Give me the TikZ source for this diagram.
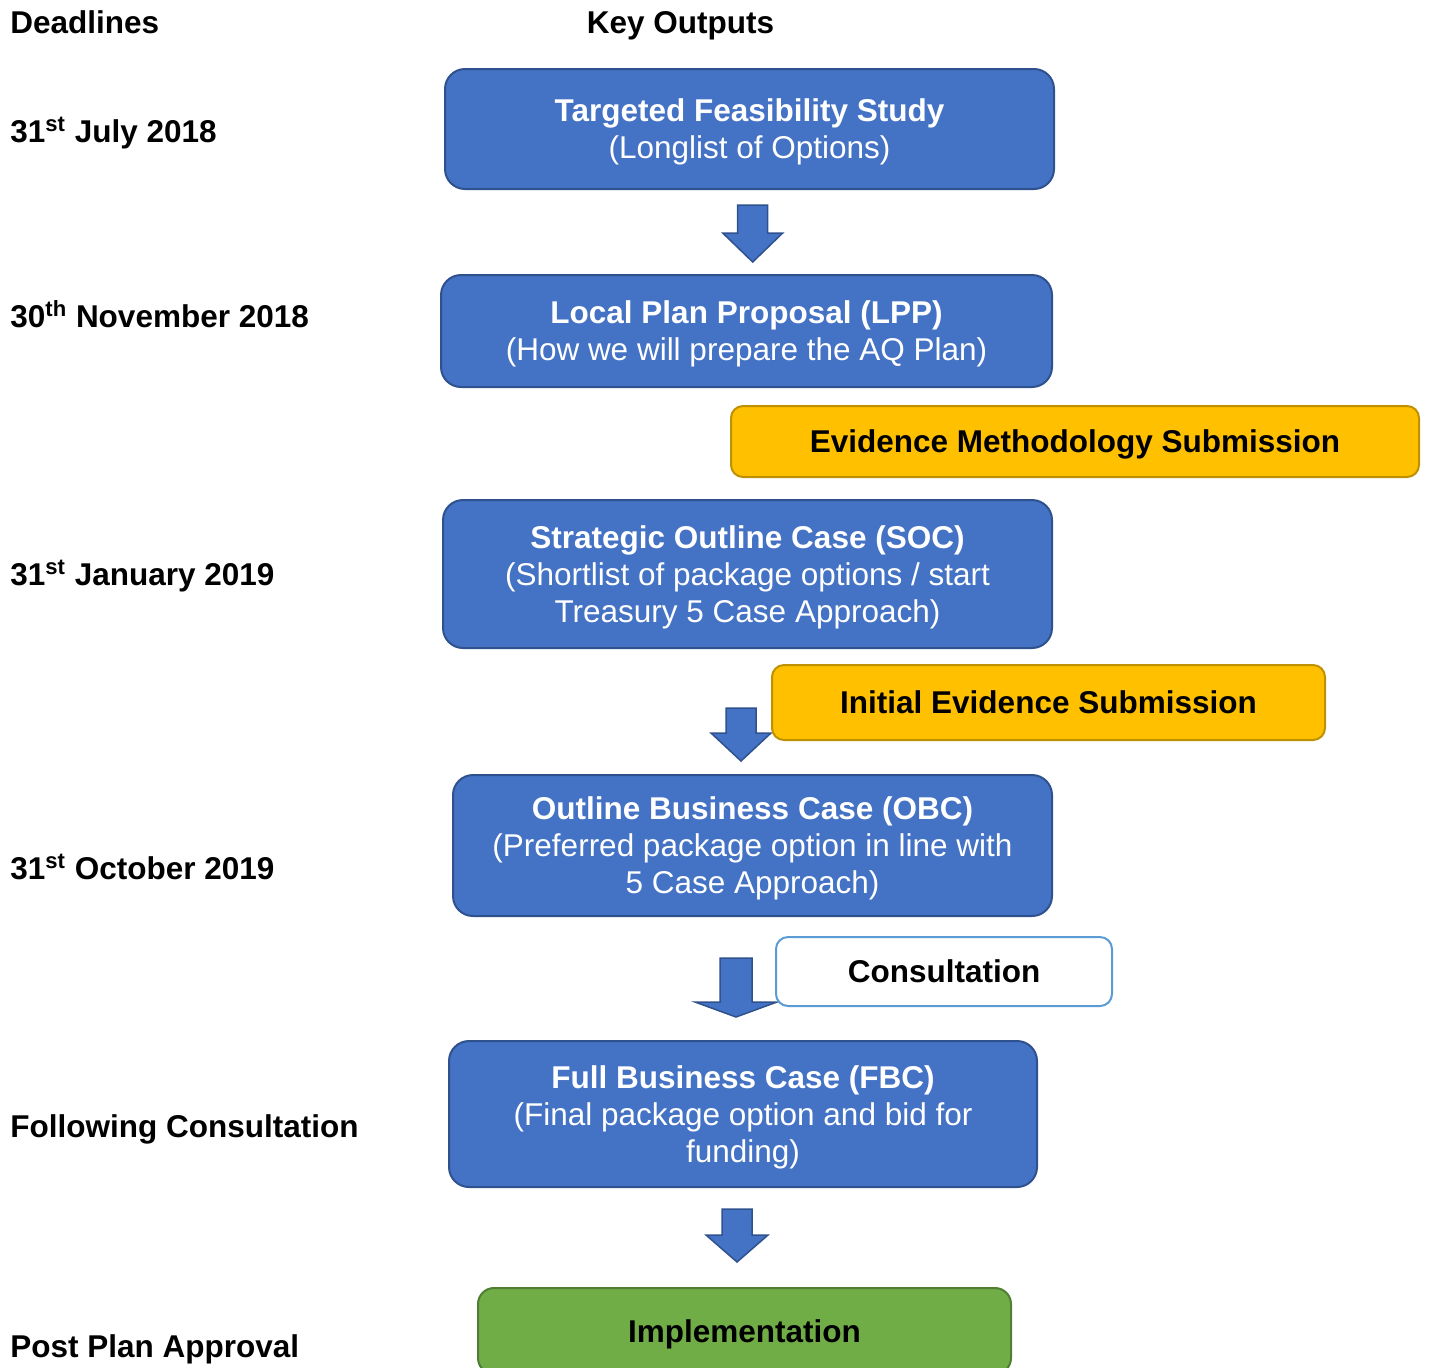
\documentclass[tikz,border=0pt]{standalone}
\usepackage{fontspec}
\setmainfont{Liberation Sans}
\usepackage{tikz}
\usetikzlibrary{positioning,calc}
\definecolor{outblue}{HTML}{4472C4}
\definecolor{outbluedark}{HTML}{2F528F}
\definecolor{evyellow}{HTML}{FFC000}
\definecolor{evyellowdark}{HTML}{BF9000}
\definecolor{implgreen}{HTML}{70AD47}
\definecolor{implgreendark}{HTML}{507E32}
\definecolor{consblue}{HTML}{5B9BD5}
\newcommand{\diagfont}{\fontsize{15.75pt}{18.5pt}\selectfont}
\newcommand{\downblock}[6]{%
  \filldraw[blockarrow] ({#1-#5},#2) -- ({#1+#5},#2) -- ({#1+#5},#3) -- ({#1+#6},#3)
    -- (#1,#4) -- ({#1-#6},#3) -- ({#1-#5},#3) -- cycle;}

\begin{document}
\begin{tikzpicture}[
  x=0.5pt,
  y=-0.5pt,
  keybox/.style={
    draw=outbluedark,
    fill=outblue,
    line width=1pt,
    rounded corners=10pt,
    inner sep=0pt,
    text depth=0pt,
    align=center,
    text=white,
    font=\diagfont
  },
  evidencebox/.style={
    draw=evyellowdark,
    fill=evyellow,
    line width=1pt,
    rounded corners=6pt,
    inner sep=0pt,
    text depth=0pt,
    font=\diagfont\bfseries
  },
  consultbox/.style={
    draw=consblue,
    fill=white,
    line width=1pt,
    rounded corners=6pt,
    inner sep=0pt,
    font=\diagfont\bfseries
  },
  implbox/.style={
    draw=implgreendark,
    fill=implgreen,
    line width=1pt,
    rounded corners=8pt,
    inner sep=0pt,
    text depth=0pt,
    font=\diagfont\bfseries
  },
  deadline/.style={
    anchor=base west,
    inner sep=0pt,
    font=\diagfont\bfseries
  },
  blockarrow/.style={fill=outblue,draw=outbluedark,line width=0.75pt}
]
  \useasboundingbox (0,0) rectangle (1429,1367);

  \coordinate (tfs) at (749.5, 129);
  \coordinate (lpp) at (746.5, 331);
  \coordinate (ems) at (1075, 441.5);
  \coordinate (soc) at (747.5, 574);
  \coordinate (ies) at (1048.5, 702.5);
  \coordinate (obc) at (752.5, 845.5);
  \coordinate (con) at (944, 971.5);
  \coordinate (fbc) at (743, 1114);
  \coordinate (imp) at (744.5, 1331);

  \downblock{752.7}{205}{233}{262}{15}{30}
  \downblock{741}{708}{733}{761}{15}{30}
  \downblock{736}{958}{1002}{1017}{16}{41}
  \downblock{737}{1209}{1235}{1262}{15}{31}

  \node[keybox,minimum width=304.5pt,minimum height=60pt] (tfsbox) at (tfs)
    {\textbf{Targeted Feasibility Study}\\(Longlist of Options)};
  \node[keybox,minimum width=305.5pt,minimum height=56pt] (lppbox) at (lpp)
    {\textbf{Local Plan Proposal (LPP)}\\(How we will prepare the AQ Plan)};
  \node[evidencebox,minimum width=344pt,minimum height=35.5pt] (emsbox) at (ems)
    {Evidence Methodology Submission};
  \node[keybox,minimum width=304.5pt,minimum height=74pt] (socbox) at (soc)
    {\textbf{Strategic Outline Case (SOC)}\\(Shortlist of package options / start\\Treasury 5 Case Approach)};
  \node[evidencebox,minimum width=276.5pt,minimum height=37.5pt] (iesbox) at (ies)
    {Initial Evidence Submission};
  \node[keybox,text depth=-4pt,minimum width=299.5pt,minimum height=70.5pt] (obcbox) at (obc)
    {\textbf{Outline Business Case (OBC)}\\(Preferred package option in line with\\5 Case Approach)};
  \node[consultbox,minimum width=168pt,minimum height=34.5pt] (conbox) at (con)
    {Consultation};
  \node[keybox,minimum width=294pt,minimum height=73pt] (fbcbox) at (fbc)
    {\textbf{Full Business Case (FBC)}\\(Final package option and bid for\\funding)};
  \node[implbox,minimum width=266.5pt,minimum height=43pt] (impbox) at (imp)
    {Implementation};

  \node[deadline] (head1) at (10, 33) {Deadlines};
  \node[deadline,anchor=base] (head2) at (680.5, 33) {Key Outputs};

  \node[deadline] (d1) at (10, 142) {31\textsuperscript{st} July 2018};
  \node[deadline] (d2) at (10, 327) {30\textsuperscript{th} November 2018};
  \node[deadline] (d3) at (10, 585) {31\textsuperscript{st} January 2019};
  \node[deadline] (d4) at (10, 879) {31\textsuperscript{st} October 2019};
  \node[deadline] (d5) at (10, 1137) {Following Consultation};
  \node[deadline] (d6) at (10, 1357) {Post Plan Approval};
\end{tikzpicture}
\end{document}
